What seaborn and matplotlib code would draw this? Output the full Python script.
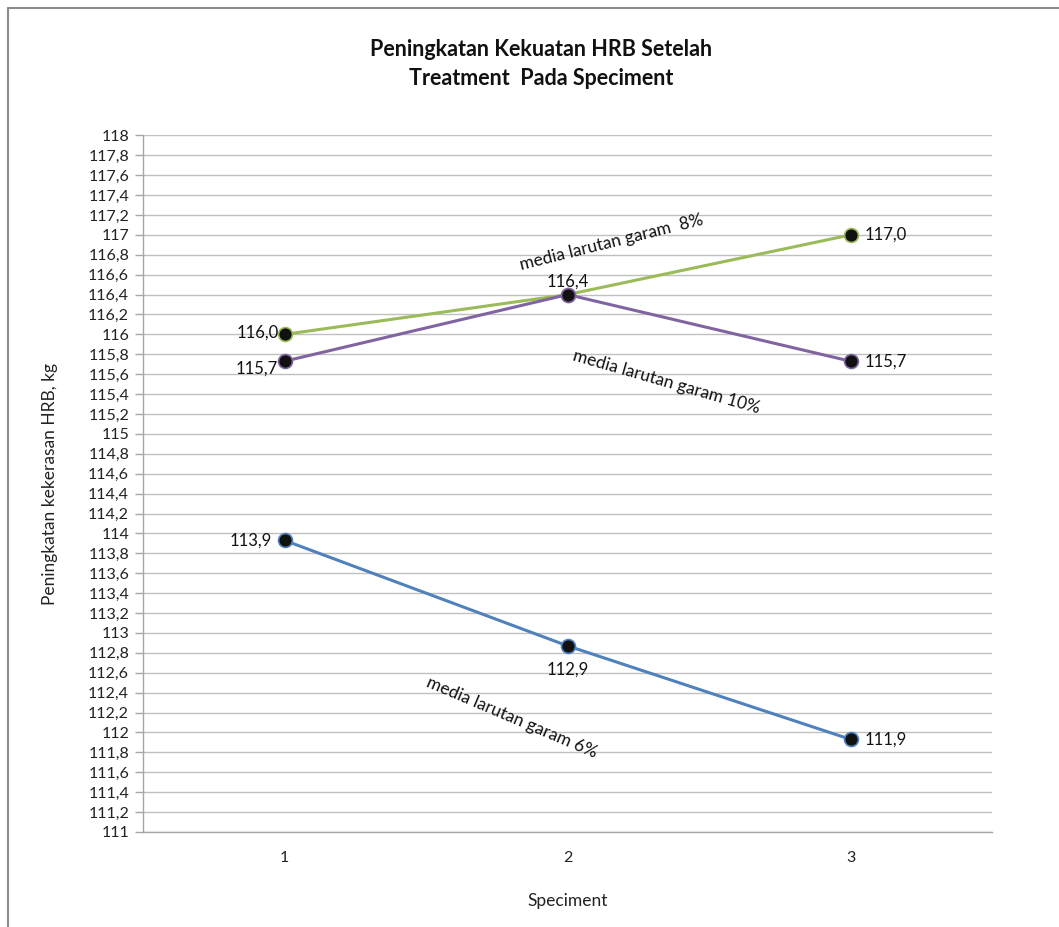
import matplotlib
matplotlib.use("Agg")
import matplotlib.pyplot as plt
from matplotlib.lines import Line2D
import seaborn as sns
import numpy as np
import pandas as pd

sns.set_theme(style="white")
plt.rcParams['font.family'] = ['Lato', 'DejaVu Sans']

specimen = [1, 2, 3]
garam_8  = [116.0, 116.4, 117.0]
garam_10 = [115.73, 116.4, 115.73]
garam_6  = [113.93, 112.87, 111.93]
y_ticks = np.round(np.arange(111, 118.01, 0.2), 1)

green  = "#9BBB59"
purple = "#8064A2"
blue   = "#4F81BD"

df = pd.DataFrame({
    "Speciment": specimen * 3,
    "nilai": garam_8 + garam_10 + garam_6,
    "seri": ["8%"] * 3 + ["10%"] * 3 + ["6%"] * 3,
})

fig = plt.figure(figsize=(10.59, 9.27), dpi=100)
ax = fig.add_axes([0.135, 0.1025, 0.802, 0.7515])

sns.lineplot(data=df, x="Speciment", y="nilai", hue="seri",
             palette={"8%": green, "10%": purple, "6%": blue},
             hue_order=["8%", "10%", "6%"],
             marker="o", markersize=10, markerfacecolor="#111111",
             markeredgewidth=1.2, linewidth=2.2, legend=False, ax=ax)
# marker edge colour per series
for line, c in zip(ax.get_lines(), [green, purple, blue]):
    line.set_markeredgecolor(c)

ax.set_xlim(0.5, 3.5)
ax.set_ylim(111, 118)
ax.set_yticks(y_ticks)
ax.set_yticklabels([(f"{v:.1f}".rstrip("0").rstrip(".")).replace(".", ",") for v in y_ticks])
ax.set_xticks(specimen)
ax.set_xticklabels([str(s) for s in specimen])
ax.set_xticks([0.5, 1.5, 2.5, 3.5], minor=True)
ax.tick_params(axis="x", which="major", length=0, pad=14, labelsize=11.5, colors="#222222")
ax.tick_params(axis="x", which="minor", length=6, width=1, color="#A6A6A6", direction="out")
ax.tick_params(axis="y", which="major", length=6, width=1, color="#A6A6A6",
               direction="out", left=True, labelsize=11.5, labelcolor="#222222", pad=4)

ax.yaxis.grid(True, color="#C0C0C0", linewidth=1)
ax.xaxis.grid(False)
for s in ["top", "right"]:
    ax.spines[s].set_visible(False)
for s in ["left", "bottom"]:
    ax.spines[s].set_color("#A6A6A6")
    ax.spines[s].set_linewidth(1)

ax.set_xlabel("Speciment", fontsize=12.5, labelpad=20, color="#222222")
ax.set_ylabel("Peningkatan kekerasan HRB, kg", fontsize=12.5, labelpad=22, color="#222222")

fig.text(0.511, 0.931, "Peningkatan Kekuatan HRB Setelah\nTreatment  Pada Speciment",
         ha="center", va="center", fontsize=15.5, fontweight="bold", color="#111111",
         linespacing=1.45)

def lab(x, y, dx, dy, ha="center"):
    ax.annotate(f"{y:.1f}".replace(".", ","), (x, y), xytext=(dx, dy),
                textcoords="offset pixels", ha=ha, va="center",
                fontsize=12, color="#111111")

lab(1, garam_8[0], -6, 2, "right")
lab(1, garam_10[0], -7, -7, "right")
lab(2, garam_8[1], 0, 13)
lab(3, garam_8[2], 14, 0, "left")
lab(3, garam_10[2], 14, 0, "left")
lab(1, garam_6[0], -13, 0, "right")
lab(2, garam_6[1], 0, -24)
lab(3, garam_6[2], 14, 0, "left")

ax.text(2.154, 116.92, "media larutan garam  8%", rotation=14, ha="center", va="center",
        fontsize=12.5, color="#111111", rotation_mode="anchor")
ax.text(2.348, 115.52, "media larutan garam 10%", rotation=-16, ha="center", va="center",
        fontsize=12.5, color="#111111", rotation_mode="anchor")
ax.text(1.804, 112.15, "media larutan garam 6%", rotation=-23, ha="center", va="center",
        fontsize=12.5, color="#111111", rotation_mode="anchor")

# frame of the chart area
fig.add_artist(Line2D([8 / 1059, 1], [1 - 8 / 927, 1 - 8 / 927], transform=fig.transFigure,
                      color="#8C8C8C", linewidth=1.5))
fig.add_artist(Line2D([8 / 1059, 8 / 1059], [0, 1 - 8 / 927], transform=fig.transFigure,
                      color="#8C8C8C", linewidth=1.5))

fig.savefig("out.png", dpi=100, facecolor="white")
